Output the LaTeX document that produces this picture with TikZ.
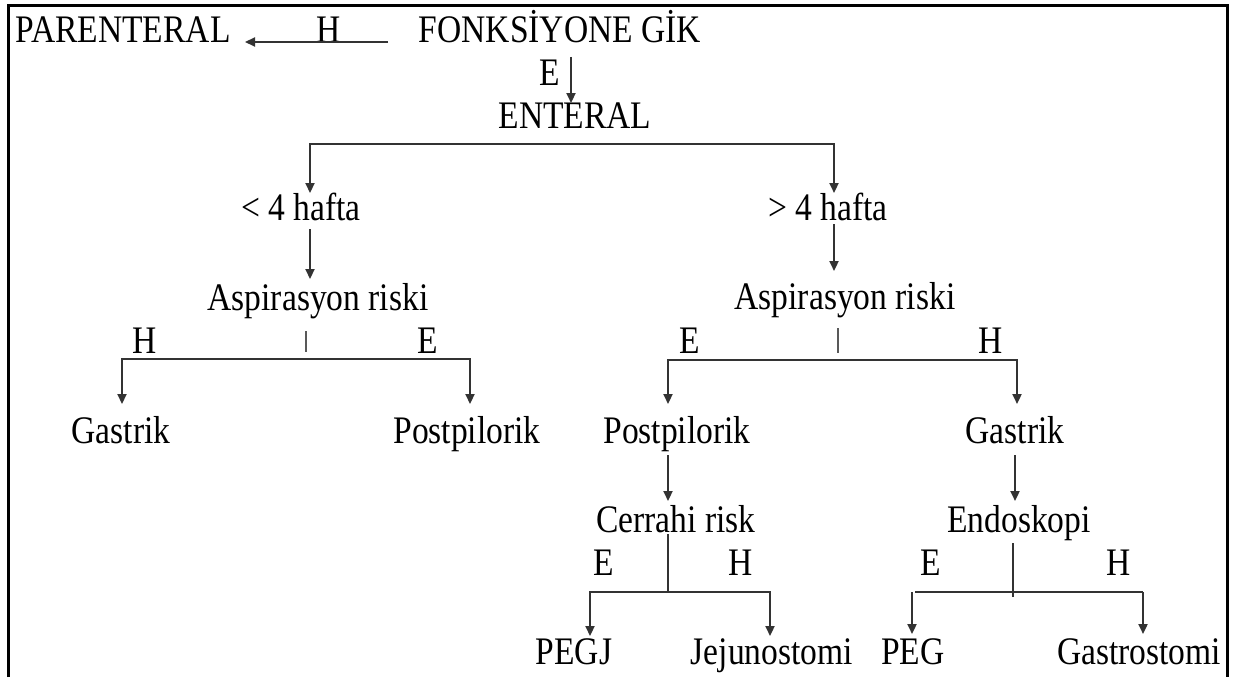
\documentclass[tikz,border=0pt]{standalone}
\usepackage{fontspec}
\setmainfont{Liberation Serif}[FakeStretch=0.86]
\usetikzlibrary{arrows.meta}
\tikzset{
  txt/.style={inner sep=0pt, anchor=base, text=black, font=\fontsize{39pt}{44pt}\selectfont},
  conn/.style={draw=black!80, line width=2.2pt},
  arr/.style={conn, -{Triangle[length=10pt,width=9pt]}},
  barr/.style={conn, {Triangle[length=10pt,width=9pt]}-{Triangle[length=10pt,width=9pt]}},
  tick/.style={draw=black!65, line width=2pt},
  frame/.style={draw=black, line width=3pt}
}
\begin{document}
\begin{tikzpicture}[x=1pt,y=-1pt]
\useasboundingbox (0,0) rectangle (1236,677);
\fill[white] (0,0) rectangle (1236,677);
% frame (open at bottom)
\draw[frame] (8.5,677) -- (8.5,5.5) -- (1227.5,5.5) -- (1227.5,677);

% ---- texts ----
\node[txt] (par)   at (123,43)  {PARENTERAL};
\node[txt] (hlab)  at (329,43)  {H};
\node[txt] (fonk)  at (560,43)  {FONKSİYONE GİK};
\node[txt] (etop)  at (550,85)  {E};
\node[txt] (ent)   at (575,128) {ENTERAL};
\node[txt] (lt4)   at (301,220) {< 4 hafta};
\node[txt] (gt4)   at (828,220) {> 4 hafta};
\node[txt] (asp1)  at (318,310) {Aspirasyon riski};
\node[txt] (asp2)  at (845,309) {Aspirasyon riski};
\node[txt] (h1)    at (145,353) {H};
\node[txt] (e1)    at (428,353) {E};
\node[txt] (e2)    at (690,353) {E};
\node[txt] (h2)    at (991,353) {H};
\node[txt] (gas1)  at (121,443) {Gastrik};
\node[txt] (post1) at (467,443) {Postpilorik};
\node[txt] (post2) at (677,443) {Postpilorik};
\node[txt] (gas2)  at (1015,443) {Gastrik};
\node[txt] (cerr)  at (676,532) {Cerrahi risk};
\node[txt] (endo)  at (1019,532) {Endoskopi};
\node[txt] (e3)    at (604,575) {E};
\node[txt] (h3)    at (741,575) {H};
\node[txt] (e4)    at (931,575) {E};
\node[txt] (h4)    at (1119,575) {H};
\node[txt] (pegj)  at (574,664) {PEGJ};
\node[txt] (jej)   at (772,664) {Jejunostomi};
\node[txt] (peg)   at (913,664) {PEG};
\node[txt] (gstro) at (1139,664) {Gastrostomi};

% ---- connector points ----
\coordinate (hA) at (388,42);
\coordinate (hB) at (245,42);
\coordinate (eA) at (571,57);
\coordinate (eB) at (571,103);
\coordinate (bL) at (310,193);
\coordinate (bR) at (834,193);
\coordinate (bY) at (0,144);
\coordinate (l4a) at (310,229);
\coordinate (l4b) at (310,279);
\coordinate (g4a) at (834,224);
\coordinate (g4b) at (834,271);
\coordinate (t1a) at (306,331);
\coordinate (t1b) at (306,352);
\coordinate (t2a) at (838,328);
\coordinate (t2b) at (838,353);
\coordinate (lbL) at (122,404);
\coordinate (lbR) at (470,404);
\coordinate (lbY) at (0,359);
\coordinate (rbL) at (668,404);
\coordinate (rbR) at (1017,404);
\coordinate (rbY) at (0,360);
\coordinate (p2a) at (668,455);
\coordinate (p2b) at (668,501);
\coordinate (g2a) at (1015,455);
\coordinate (g2b) at (1015,501);
\coordinate (c1) at (668,534);
\coordinate (c2) at (668,592);
\coordinate (cL) at (590,636);
\coordinate (cR) at (770,636);
\coordinate (d1) at (1013,543);
\coordinate (d2) at (1013,597);
\coordinate (dL) at (912,634);
\coordinate (dR) at (1143,634);

% ---- connectors ----
\draw[arr] (hA) -- (hB);
\draw[arr] (eA) -- (eB);
\draw[barr] (bL) -- (bL |- bY) -- (bR |- bY) -- (bR);
\draw[arr] (l4a) -- (l4b);
\draw[arr] (g4a) -- (g4b);
\draw[tick] (t1a) -- (t1b);
\draw[tick] (t2a) -- (t2b);
\draw[barr] (lbL) -- (lbL |- lbY) -- (lbR |- lbY) -- (lbR);
\draw[barr] (rbL) -- (rbL |- rbY) -- (rbR |- rbY) -- (rbR);
\draw[arr] (p2a) -- (p2b);
\draw[arr] (g2a) -- (g2b);
\draw[conn] (c1) -- (c2);
\draw[barr] (cL) -- (cL |- c2) -- (cR |- c2) -- (cR);
\draw[conn] (d1) -- (d2);
\draw[conn] (915,592) -- (dR |- 0,592);
\draw[arr] (dL |- 0,592) -- (dL);
\draw[arr] (dR |- 0,592) -- (dR);
\end{tikzpicture}
\end{document}
